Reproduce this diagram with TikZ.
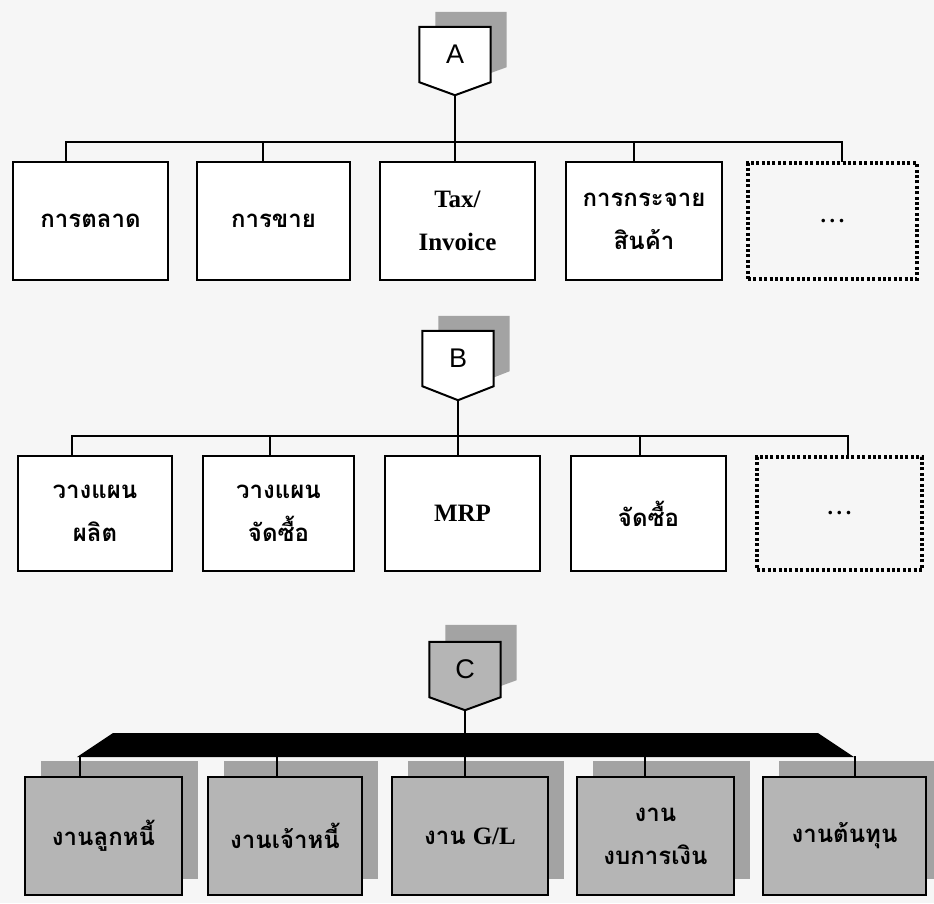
\documentclass[tikz,border=0pt]{standalone}
\usepackage{fontspec}
\setmainfont{Liberation Serif}
\newfontfamily\thai[Script=Thai]{Loma}
\newfontfamily\lsans{Liberation Sans}
\usetikzlibrary{calc}
\definecolor{bgc}{gray}{0.965}
\definecolor{boxgray}{gray}{0.71}
\definecolor{shadowgray}{gray}{0.64}
\tikzset{
  x=1pt, y=-1pt,
  conn/.style={line width=1.9pt, line cap=rect},
  plainbox/.style={draw, line width=2pt, fill=white, align=center, inner sep=0pt},
  dotbox/.style={draw, line width=3.2pt, dash pattern=on 3pt off 2.4pt, fill=bgc, inner sep=0pt},
  graybox/.style={draw, line width=2pt, fill=boxgray, align=center, inner sep=0pt},
  thaitxt/.style={font=\thai\bfseries\fontsize{24}{43}\selectfont},
  lattxt/.style={font=\bfseries\fontsize{25}{43}\selectfont},
  ellip/.style={font=\bfseries\fontsize{22}{24}\selectfont},
  headtag/.style={minimum width=71pt, minimum height=55pt, inner sep=0pt},
  headlbl/.style={font=\lsans\fontsize{27}{30}\selectfont},
}
\newcommand{\pentapath}[2]{% node name, tip depth
  (#1.north west) -- (#1.north east) -- (#1.south east) -- ($(#1.south)+(0,#2)$) -- (#1.south west) -- cycle}
\begin{document}
\begin{tikzpicture}
\fill[bgc] (0,0) rectangle (934,903);
\useasboundingbox (0,0) rectangle (934,903);

% ================= A =================
\node[headtag] (pAs) at (471,39.5) {};
\fill[shadowgray] \pentapath{pAs}{13};
\node[headtag] (pA) at (455,54.5) {};
\filldraw[fill=white, line width=2pt] \pentapath{pA}{13};
\node[headlbl] (lA) at (pA.center) {A};
\coordinate (tipA) at ($(pA.south)+(0,13)$);

\node[plainbox, minimum width=155pt, minimum height=118pt, thaitxt] (a1) at (90.5,221) {การตลาด};
\node[plainbox, minimum width=153pt, minimum height=118pt, thaitxt] (a2) at (273.5,221) {การขาย};
\node[plainbox, minimum width=155pt, minimum height=118pt, lattxt] (a3) at (457.5,221) {Tax/\\Invoice};
\node[plainbox, minimum width=156pt, minimum height=118pt, thaitxt] (a4) at (644,221) {การกระจาย\\สินค้า};
\node[dotbox, minimum width=169pt, minimum height=116pt, ellip] (a5) at (832.5,221) {.\,.\,.};

\coordinate (busA) at (0,142);
\coordinate (dA1) at ($(a1.north)+(-24.5,0)$);
\coordinate (dA2) at ($(a2.north)+(-10.5,0)$);
\coordinate (dA3) at ($(a3.north)+(-2.5,0)$);
\coordinate (dA4) at ($(a4.north)+(-10,0)$);
\coordinate (dA5) at ($(a5.north)+(9.5,0)$);
\draw[conn] (tipA) -- (tipA |- busA);
\draw[conn] (dA1) |- (dA5 |- busA) -- (dA5);
\foreach \d in {dA2,dA3,dA4}{ \draw[conn] (\d) -- (\d |- busA); }

% ================= B =================
\node[headtag] (pBs) at (474,343.5) {};
\fill[shadowgray] \pentapath{pBs}{14};
\node[headtag] (pB) at (458,358.5) {};
\filldraw[fill=white, line width=2pt] \pentapath{pB}{14};
\node[headlbl] (lB) at (pB.center) {B};
\coordinate (tipB) at ($(pB.south)+(0,14)$);

\node[plainbox, minimum width=154pt, minimum height=115pt, thaitxt] (b1) at (95,513.5) {วางแผน\\ผลิต};
\node[plainbox, minimum width=151pt, minimum height=115pt, thaitxt] (b2) at (278.5,513.5) {วางแผน\\จัดซื้อ};
\node[plainbox, minimum width=155pt, minimum height=115pt, lattxt] (b3) at (462.5,513.5) {MRP};
\node[plainbox, minimum width=155pt, minimum height=115pt, thaitxt] (b4) at (648.5,513.5) {จัดซื้อ};
\node[dotbox, minimum width=165pt, minimum height=113pt, ellip] (b5) at (839.5,513.5) {.\,.\,.};

\coordinate (busB) at (0,436);
\coordinate (dB1) at ($(b1.north)+(-23,0)$);
\coordinate (dB2) at ($(b2.north)+(-8.5,0)$);
\coordinate (dB3) at ($(b3.north)+(-4.5,0)$);
\coordinate (dB4) at ($(b4.north)+(-8.5,0)$);
\coordinate (dB5) at ($(b5.north)+(8.5,0)$);
\draw[conn] (tipB) -- (tipB |- busB);
\draw[conn] (dB1) |- (dB5 |- busB) -- (dB5);
\foreach \d in {dB2,dB3,dB4}{ \draw[conn] (\d) -- (\d |- busB); }

% ================= C =================
\node[headtag] (pCs) at (481,652.5) {};
\fill[shadowgray] \pentapath{pCs}{13};
\node[headtag] (pC) at (465,669.5) {};
\filldraw[fill=boxgray, line width=2pt] \pentapath{pC}{13};
\node[headlbl] (lC) at (pC.center) {C};
\coordinate (tipC) at ($(pC.south)+(0,13)$);

% shadows behind the grey boxes
\foreach \cx/\w in {103.5/157, 285/154, 470/156, 655.5/157, 844.5/163}{
  \fill[shadowgray] (\cx-\w/2+16, 761) rectangle (\cx+\w/2+16, 879);
}
\node[graybox, minimum width=157pt, minimum height=118pt, thaitxt] (c1) at (103.5,836) {งานลูกหนี้};
\node[graybox, minimum width=154pt, minimum height=118pt, thaitxt] (c2) at (285,836) {งานเจ้าหนี้};
\node[graybox, minimum width=156pt, minimum height=118pt, thaitxt] (c3) at (470,836) {งาน\hspace{7pt}{\rmfamily\bfseries\fontsize{25}{43}\selectfont G/L}};
\node[graybox, minimum width=157pt, minimum height=118pt, thaitxt] (c4) at (655.5,836) {งาน\\งบการเงิน};
\node[graybox, minimum width=163pt, minimum height=118pt, thaitxt] (c5) at (844.5,836) {งานต้นทุน};

% black 3D bar
\coordinate (barTL) at (113,733);
\coordinate (barTR) at (818,733);
\coordinate (barBR) at (854,757);
\coordinate (barBL) at (77,757);
\fill[black] (barBL) -- (barTL) -- (barTR) -- (barBR) -- cycle;
\coordinate (dC1) at ($(c1.north)+(-23.5,0)$);
\coordinate (dC2) at ($(c2.north)+(-8,0)$);
\coordinate (dC3) at ($(c3.north)+(-5,0)$);
\coordinate (dC4) at ($(c4.north)+(-10.5,0)$);
\coordinate (dC5) at ($(c5.north)+(10.5,0)$);
\draw[conn] (tipC) -- (tipC |- barTL);
\foreach \d in {dC1,dC2,dC3,dC4,dC5}{ \draw[conn] (\d) -- (\d |- barBL); }
\end{tikzpicture}
\end{document}
